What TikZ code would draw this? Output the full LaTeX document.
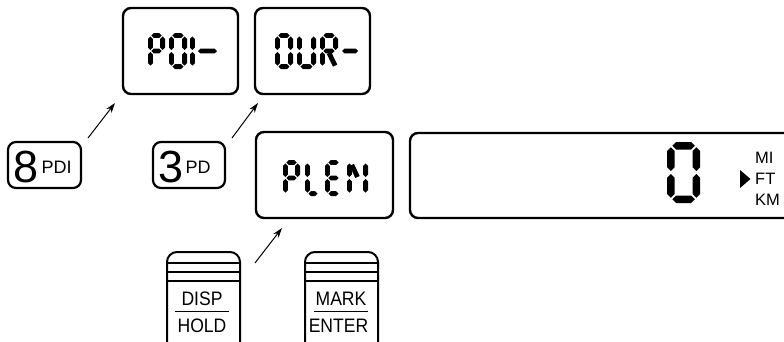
\documentclass[tikz,border=0pt]{standalone}
\usepackage{fontspec}
\setmainfont{Liberation Sans}
\usetikzlibrary{arrows.meta}
\tikzset{
  lcdbox/.style={draw, line width=2.4pt, rounded corners=8pt, inner sep=0pt},
  keybox/.style={draw, line width=2.2pt, rounded corners=8pt, inner sep=0pt},
  keyline/.style={line width=2pt},
  ptr/.style={line width=1pt, -{Stealth[length=10pt,width=6.5pt]}},
  lbl/.style={inner sep=0pt, font=\fontsize{18}{20}\selectfont},
  keylbl/.style={inner sep=0pt, anchor=base, xscale=0.9, font=\fontsize{19.5}{22}\selectfont},
  big/.style={inner sep=0pt, font=\fontsize{45}{48}\selectfont},
  unit/.style={inner sep=0pt, anchor=base west, font=\fontsize{16.5}{18}\selectfont},
}
% segment primitives: horizontal (x1,x2,y,t) and vertical (x,y1,y2,t)
\newcommand\hs[4]{\fill ({#1},{#3}) -- ({#1+#4/2},{#3-#4/2}) -- ({#2-#4/2},{#3-#4/2}) -- ({#2},{#3}) -- ({#2-#4/2},{#3+#4/2}) -- ({#1+#4/2},{#3+#4/2}) -- cycle;}
\newcommand\vs[4]{\fill ({#1},{#2}) -- ({#1+#4/2},{#2+#4/2}) -- ({#1+#4/2},{#3-#4/2}) -- ({#1},{#3}) -- ({#1-#4/2},{#3-#4/2}) -- ({#1-#4/2},{#2+#4/2}) -- cycle;}
% character cell: X, Y (outer top-left), outer width, outer height
\newcommand\cell[4]{%
  \pgfmathsetmacro\ct{\segt}%
  \pgfmathsetmacro\cx{#1+\segt/2}%
  \pgfmathsetmacro\cy{#2+\segt/2}%
  \pgfmathsetmacro\cw{#3-\segt}%
  \pgfmathsetmacro\ch{#4-\segt}%
  \pgfmathsetmacro\cr{\cx+\cw}%
  \pgfmathsetmacro\cm{\cy+\ch/2}%
  \pgfmathsetmacro\cb{\cy+\ch}}
\def\segt{4}\def\gp{1}
\newcommand\sA{\hs{\cx+\gp}{\cr-\gp}{\cy}{\ct}}
\newcommand\sG{\hs{\cx+\gp}{\cr-\gp}{\cm}{\ct}}
\newcommand\sD{\hs{\cx+\gp}{\cr-\gp}{\cb}{\ct}}
\newcommand\sF{\vs{\cx}{\cy+\gp}{\cm-\gp}{\ct}}
\newcommand\sE{\vs{\cx}{\cm+\gp}{\cb-\gp}{\ct}}
\newcommand\sB{\vs{\cr}{\cy+\gp}{\cm-\gp}{\ct}}
\newcommand\sC{\vs{\cr}{\cm+\gp}{\cb-\gp}{\ct}}
\newcommand\sR{\draw[line width=\segt pt] ({\cx+\cw/2},{\cm+\gp+1}) -- ({\cr-0.5},{\cb-\gp});}
\newcommand\sN{\draw[line width=\segt pt] ({\cx+\segt/2},{\cy+\gp+1.5}) -- ({\cx+\cw/2},{\cm-1});}
\begin{document}
\begin{tikzpicture}[x=1pt,y=-1pt]
\useasboundingbox (0,0) rectangle (784,341);
\clip (0,0) rectangle (784,341);

% LCD boxes
\node[lcdbox, minimum width=115pt, minimum height=86pt] (pdi) at (180.5,51) {};
\node[lcdbox, minimum width=115pt, minimum height=86pt] (dur) at (312.5,51) {};
\node[lcdbox, minimum width=137pt, minimum height=86pt] (plen) at (324.5,175) {};
\node[lcdbox, minimum width=400pt, minimum height=85pt] (main) at (610,175.5) {};

% key boxes
\node[keybox, minimum width=73pt, minimum height=46pt] (k8) at (44.5,165) {};
\node[keybox, minimum width=72pt, minimum height=46pt] (k3) at (189,165) {};
\node[big, anchor=base west] (k8n) at (13,182) {8};
\node[lbl, anchor=base west] (k8t) at (41.5,173) {PDI};
\node[big, anchor=base west] (k3n) at (158,182) {3};
\node[lbl, anchor=base west] (k3t) at (185.5,173) {PD};

% PDI-
\def\segt{4.8}\def\gp{1}
\cell{148}{33}{17}{36}\sA\sB\sF\sE\sG
\cell{169}{33}{18}{36}\sA\sB\sC\sD\sE\sF
\cell{190}{33}{4.8}{36}\sF\sE
\hs{198}{217}{51}{4.8}
% DUR-
\cell{275}{33}{18}{36}\sA\sB\sC\sD\sE\sF
\cell{297}{33}{19}{36}\sB\sC\sD\sE\sF
\cell{320}{33}{18}{36}\sA\sB\sF\sE\sG\sR
\hs{342}{358}{51}{4.8}
% PLEN
\cell{283}{160}{17}{36}\sA\sB\sF\sE\sG
\cell{305}{160}{16}{36}\sF\sE\sD
\cell{325}{160}{17}{36}\sA\sF\sE\sD\sG
\cell{347}{160}{21}{36}\sF\sE\sB\sC\sN
% big 0
\def\segt{7.5}\def\gp{1.5}
\cell{667}{142}{33}{61}\sA\sB\sC\sD\sE\sF

% units
\fill (740,170) -- (750.5,179) -- (740,188) -- cycle;
\node[unit] (mi) at (755,163) {MI};
\node[unit] (ft) at (755,184.5) {FT};
\node[unit] (km) at (755,205.5) {KM};

% pointer arrows
\coordinate (a1s) at (88,138);  \coordinate (a1e) at (115,103);
\coordinate (a2s) at (232,138); \coordinate (a2e) at (258,103);
\coordinate (a3s) at (255,263); \coordinate (a3e) at (282,228);
\draw[ptr] (a1s) -- (a1e);
\draw[ptr] (a2s) -- (a2e);
\draw[ptr] (a3s) -- (a3e);

% DISP/HOLD key
\draw[keyline, rounded corners=10pt] (167,350) -- (167,252) -- (240,252) -- (240,350);
\draw[keyline] (167,263) -- (240,263) (167,272) -- (240,272) (167,281) -- (240,281);
\node[keylbl] (disp) at (202,305.5) {DISP};
\draw[line width=1.2pt] (175,311.7) -- (229,311.7);
\node[keylbl] (hold) at (202,332.3) {HOLD};

% MARK/ENTER key
\draw[keyline, rounded corners=10pt] (305,350) -- (305,252) -- (378,252) -- (378,350);
\draw[keyline] (305,263) -- (378,263) (305,272) -- (378,272) (305,281) -- (378,281);
\node[keylbl] (mark) at (341,305.5) {MARK};
\draw[line width=1.2pt] (314,311.7) -- (368,311.7);
\node[keylbl] (enter) at (338.5,332.3) {ENTER};
\end{tikzpicture}
\end{document}
